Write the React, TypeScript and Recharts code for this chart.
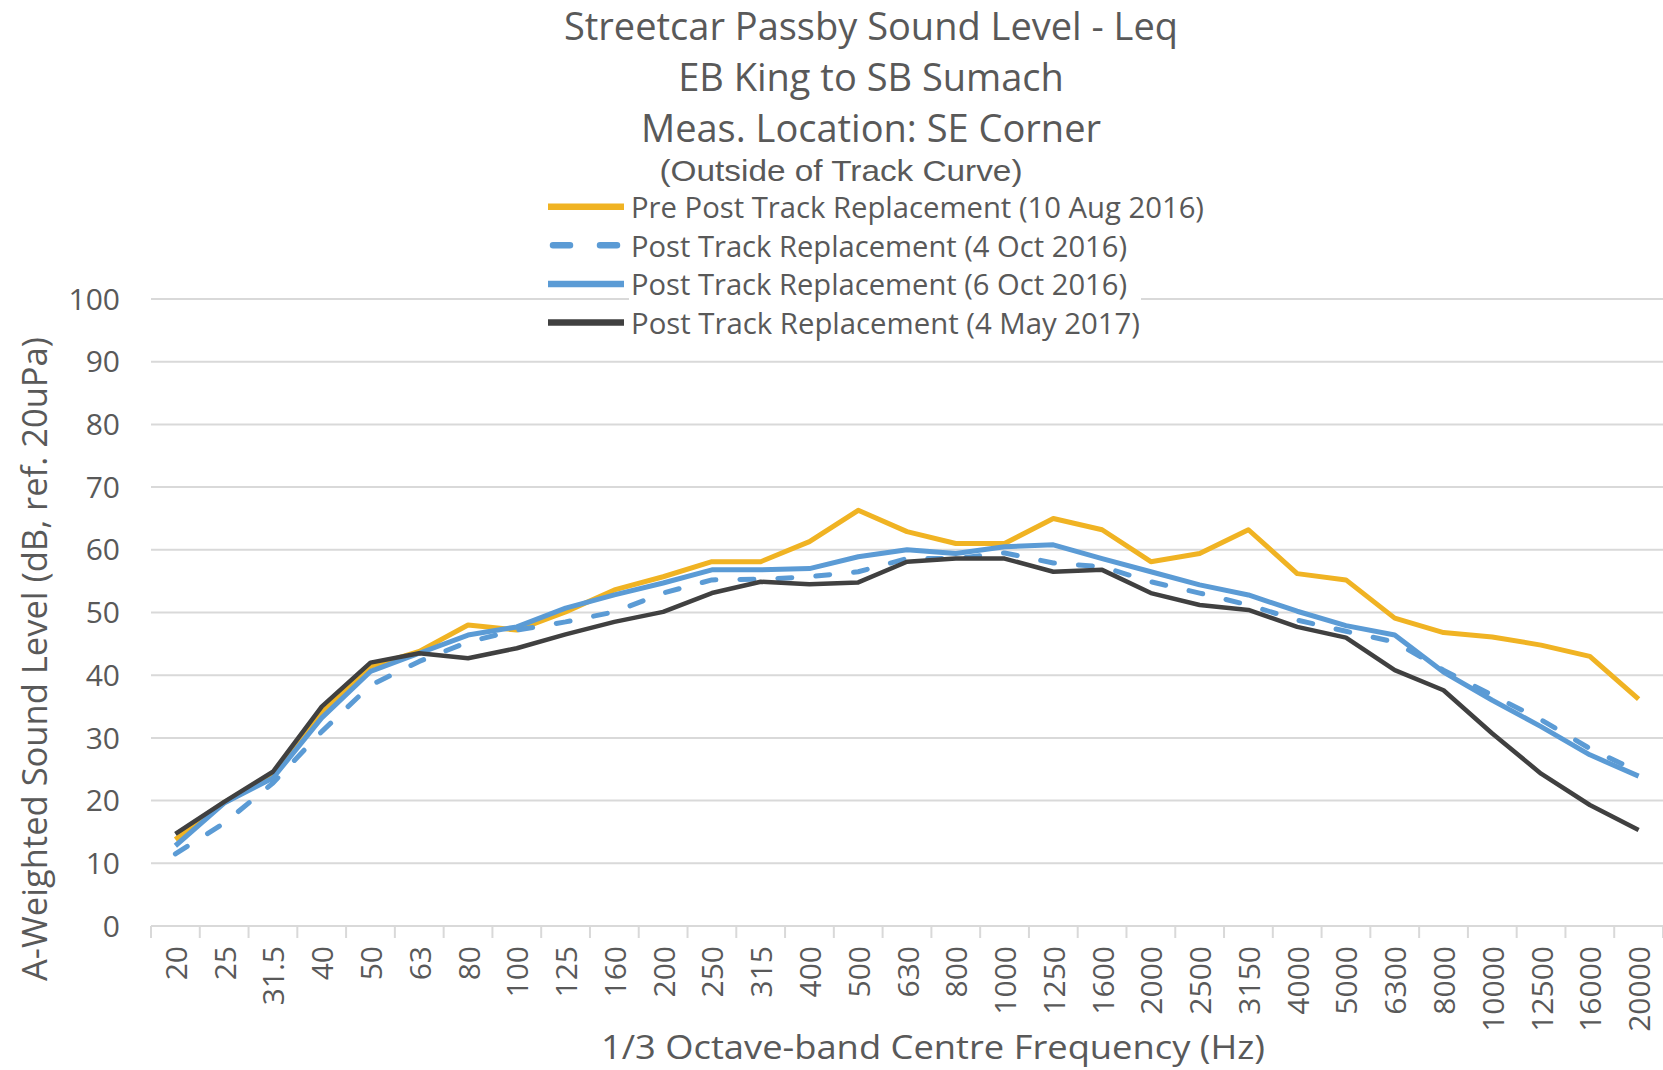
import React from 'react';
import { LineChart, Line, XAxis, YAxis, CartesianGrid } from 'recharts';

const frequencies = ['20', '25', '31.5', '40', '50', '63', '80', '100', '125', '160', '200', '250', '315', '400', '500', '630', '800', '1000', '1250', '1600', '2000', '2500', '3150', '4000', '5000', '6300', '8000', '10000', '12500', '16000', '20000'];

const prePost10Aug2016 = [13.8, 19.7, 23.8, 34.0, 41.4, 43.8, 48.0, 47.2, 50.1, 53.6, 55.7, 58.1, 58.1, 61.3, 66.3, 62.9, 61.0, 61.0, 65.0, 63.2, 58.1, 59.4, 63.2, 56.2, 55.2, 49.1, 46.8, 46.1, 44.8, 43.0, 36.2];
const post4Oct2016 = [11.5, 16.4, 22.8, 31.0, 38.4, 42.2, 45.3, 47.2, 48.5, 50.1, 53.1, 55.2, 55.3, 55.7, 56.5, 58.6, 58.6, 59.5, 57.9, 57.3, 54.9, 53.1, 51.2, 48.8, 47.0, 45.3, 40.8, 36.8, 32.9, 28.3, 24.6];
const post6Oct2016 = [12.8, 19.6, 23.6, 33.2, 40.6, 43.5, 46.4, 47.7, 50.7, 52.8, 54.7, 56.8, 56.8, 57.0, 58.9, 60.0, 59.4, 60.5, 60.8, 58.6, 56.5, 54.4, 52.8, 50.2, 47.9, 46.4, 40.5, 36.0, 31.8, 27.3, 23.9];
const post4May2017 = [14.7, 19.8, 24.6, 35.0, 42.0, 43.5, 42.7, 44.3, 46.5, 48.5, 50.1, 53.1, 54.9, 54.5, 54.8, 58.1, 58.6, 58.6, 56.5, 56.8, 53.1, 51.2, 50.4, 47.7, 46.0, 40.8, 37.6, 30.7, 24.3, 19.3, 15.3];

const yTicks = [0, 10, 20, 30, 40, 50, 60, 70, 80, 90, 100];

const titleLines = ['Streetcar Passby Sound Level - Leq', 'EB King to SB Sumach', 'Meas. Location: SE Corner'];
const subtitle = '(Outside of Track Curve)';
const yAxisTitle = 'A-Weighted Sound Level (dB, ref. 20uPa)';
const xAxisTitle = '1/3 Octave-band Centre Frequency (Hz)';

const series = [
  { key: 'pre', name: 'Pre Post Track Replacement (10 Aug 2016)', values: prePost10Aug2016, color: '#F0B323', dash: undefined as string | undefined, width: 5, legendLen: 573 },
  { key: 'oct4', name: 'Post Track Replacement (4 Oct 2016)', values: post4Oct2016, color: '#5B9BD5', dash: '14 24', width: 5, legendLen: 496 },
  { key: 'oct6', name: 'Post Track Replacement (6 Oct 2016)', values: post6Oct2016, color: '#5B9BD5', dash: undefined as string | undefined, width: 5, legendLen: 496 },
  { key: 'may17', name: 'Post Track Replacement (4 May 2017)', values: post4May2017, color: '#404040', dash: undefined as string | undefined, width: 4.5, legendLen: 509 },
];

const data = frequencies.map((f, i) => {
  const row: Record<string, number | string> = { idx: i, freq: f };
  series.forEach((s) => {
    row[s.key] = s.values[i];
  });
  return row;
});

const xTicks = [...frequencies.flatMap((_, i) => [i - 0.5, i]), frequencies.length - 0.5];

const W = 1663;
const H = 1070;
const FONT = "'Open Sans', 'Noto Sans', sans-serif";
const TEXT = '#595959';
const GRID = '#d9d9d9';

const XTick = (props: any) => {
  const { x, y, payload } = props;
  const v = payload.value as number;
  if (!Number.isInteger(v)) {
    return <line x1={x} x2={x} y1={y} y2={y + 12} stroke={GRID} strokeWidth={2} />;
  }
  const ty = y + 20;
  return (
    <text
      x={x}
      y={ty}
      transform={`rotate(-90, ${x}, ${ty})`}
      textAnchor="end"
      dominantBaseline="central"
      fill={TEXT}
      fontSize={30}
      fontFamily={FONT}
    >
      {frequencies[v]}
    </text>
  );
};

export default function App() {
  const legendX = 548;
  const legendTextX = 631;
  const legendY0 = 206.7;
  const legendStep = 38.6;
  return (
    <div style={{ position: 'absolute', left: 0, top: 0, width: W, height: H, background: '#fff', overflow: 'hidden' }}>
      <LineChart width={W} height={H} data={data} margin={{ top: 299, right: 0, bottom: 0, left: 0 }}>
        <CartesianGrid vertical={false} stroke={GRID} strokeWidth={2} />
        <XAxis
          dataKey="idx"
          type="number"
          domain={[-0.5, frequencies.length - 0.5]}
          ticks={xTicks}
          interval={0}
          tick={(p: any) => <XTick {...p} />}
          tickLine={false}
          tickSize={0}
          tickMargin={0}
          axisLine={{ stroke: GRID, strokeWidth: 2 }}
          height={144}
          allowDataOverflow
        />
        <YAxis
          type="number"
          domain={[0, 100]}
          ticks={yTicks}
          interval={0}
          axisLine={false}
          tickLine={false}
          tickSize={0}
          tickMargin={31}
          width={151}
          tick={{ fill: TEXT, fontSize: 30, fontFamily: FONT }}
        />
        {series.map((s) => (
          <Line
            key={s.key}
            dataKey={s.key}
            name={s.name}
            type="linear"
            stroke={s.color}
            strokeWidth={s.width}
            strokeDasharray={s.dash}
            strokeLinecap={s.dash ? 'round' : 'butt'}
            strokeLinejoin="round"
            dot={false}
            activeDot={false}
            isAnimationActive={false}
          />
        ))}
      </LineChart>
      <svg width={W} height={H} style={{ position: 'absolute', left: 0, top: 0, pointerEvents: 'none' }}>
        {titleLines.map((t, i) => (
          <text
            key={t}
            x={871}
            y={[40, 90.6, 141.5][i]}
            textAnchor="middle"
            fill={TEXT}
            fontSize={38}
            fontFamily={FONT}
          >
            {t}
          </text>
        ))}
        <text
          x={841}
          y={181}
          textAnchor="middle"
          fill={TEXT}
          fontSize={29}
          fontFamily="'Liberation Sans', Arial, sans-serif"
          textLength={363}
          lengthAdjust="spacingAndGlyphs"
        >
          {subtitle}
        </text>
        <rect x={629} y={265} width={512} height={75} fill="#fff" />
        {series.map((s, i) => {
          const cy = legendY0 + i * legendStep;
          return (
            <g key={s.key}>
              <line
                x1={s.dash ? legendX + 5 : legendX}
                x2={s.dash ? legendX + 72 : legendX + 76}
                y1={cy}
                y2={cy}
                stroke={s.color}
                strokeWidth={6.5}
                strokeDasharray={s.dash ? '17 30' : undefined}
                strokeLinecap={s.dash ? 'round' : 'butt'}
              />
              <text
                x={legendTextX}
                y={cy}
                dominantBaseline="central"
                fill={TEXT}
                fontSize={29}
                fontFamily={FONT}
                textLength={s.legendLen}
                lengthAdjust="spacingAndGlyphs"
              >
                {s.name}
              </text>
            </g>
          );
        })}
        <text
          x={34}
          y={659}
          transform="rotate(-90, 34, 659)"
          textAnchor="middle"
          dominantBaseline="central"
          fill={TEXT}
          fontSize={34}
          fontFamily={FONT}
          textLength={644}
          lengthAdjust="spacingAndGlyphs"
        >
          {yAxisTitle}
        </text>
        <text
          x={933}
          y={1059}
          textAnchor="middle"
          fill={TEXT}
          fontSize={33}
          fontFamily={FONT}
          textLength={664}
          lengthAdjust="spacingAndGlyphs"
        >
          {xAxisTitle}
        </text>
      </svg>
    </div>
  );
}
